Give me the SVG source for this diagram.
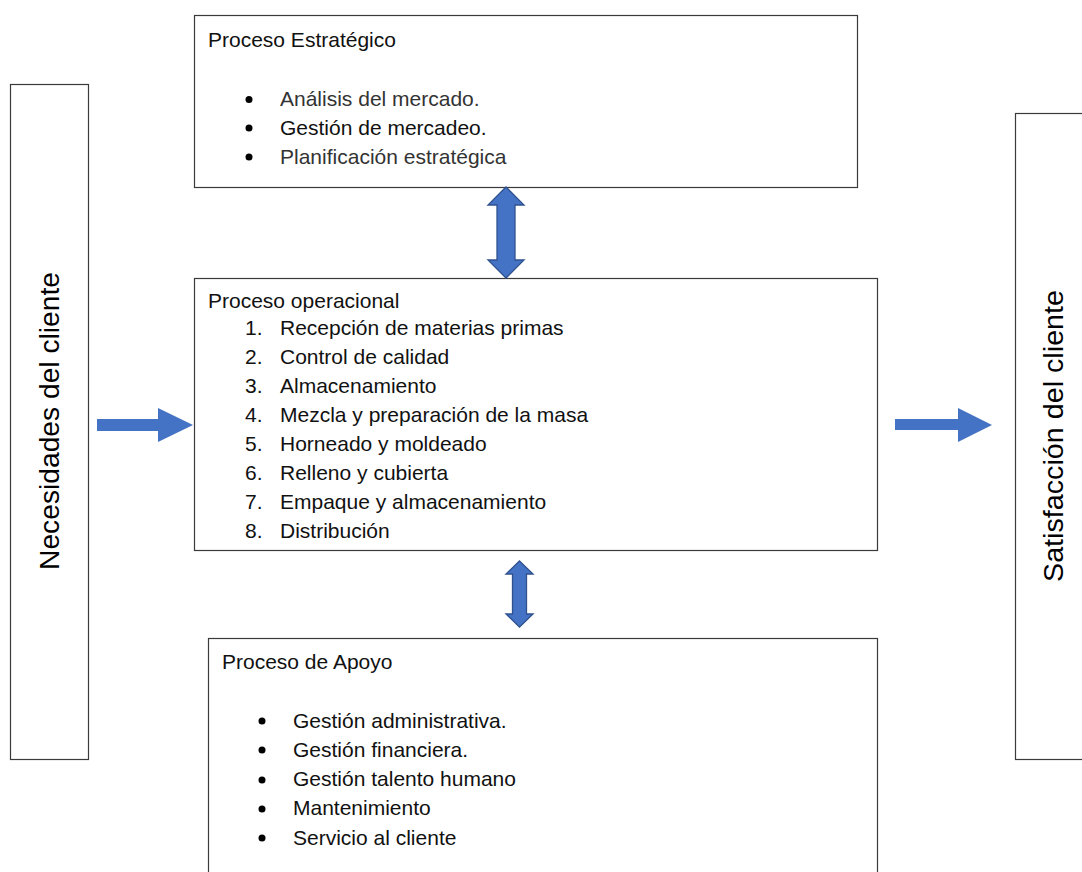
<svg xmlns="http://www.w3.org/2000/svg" width="1082" height="872" viewBox="0 0 1082 872">
  <defs>
    <style>
      .box { fill: #ffffff; stroke: #3a3a3a; stroke-width: 1.2; }
      .txt { font-family: "Liberation Sans", Arial, sans-serif; font-size: 21px; fill: #111111; }
      .soft { fill: #333333; }
      .side { font-family: "Liberation Sans", Arial, sans-serif; font-size: 27px; fill: #000000; }
      .dot { fill: #000000; }
      .dbl { fill: #4472C4; stroke: #2F528F; stroke-width: 1.3; stroke-linejoin: miter; }
      .flow { fill: #4472C4; }
    </style>
  </defs>
  <rect width="1082" height="872" fill="#ffffff"/>

  <!-- Client needs (left column) -->
  <g id="node-necesidades">
    <rect class="box" x="10.5" y="84.5" width="78" height="675"/>
    <text class="side" transform="translate(59,421) rotate(-90)" text-anchor="middle" textLength="298" lengthAdjust="spacingAndGlyphs">Necesidades del cliente</text>
  </g>

  <!-- Client satisfaction (right column) -->
  <g id="node-satisfaccion">
    <rect class="box" x="1015.5" y="113.5" width="90" height="646"/>
    <text class="side" transform="translate(1063,436) rotate(-90)" text-anchor="middle" textLength="292" lengthAdjust="spacingAndGlyphs">Satisfacción del cliente</text>
  </g>

  <!-- Strategic process -->
  <g id="node-estrategico">
    <rect class="box" x="194.5" y="15.5" width="663" height="172"/>
    <text class="txt" x="208" y="47">Proceso Estratégico</text>
    <circle class="dot" cx="249" cy="99.5" r="3.5"/>
    <circle class="dot" cx="249" cy="128" r="3.5"/>
    <circle class="dot" cx="249" cy="157" r="3.5"/>
    <text class="txt soft" x="280" y="106">Análisis del mercado.</text>
    <text class="txt" x="280" y="134.5">Gestión de mercadeo.</text>
    <text class="txt soft" x="280" y="163.5">Planificación estratégica</text>
  </g>

  <!-- Operational process -->
  <g id="node-operacional">
    <rect class="box" x="194.5" y="278.5" width="683" height="272"/>
    <text class="txt" x="208" y="308">Proceso operacional</text>
    <g class="txt">
      <text x="245" y="335">1.</text><text x="280" y="335">Recepción de materias primas</text>
      <text x="245" y="364">2.</text><text x="280" y="364">Control de calidad</text>
      <text x="245" y="393">3.</text><text x="280" y="393">Almacenamiento</text>
      <text x="245" y="422">4.</text><text x="280" y="422">Mezcla y preparación de la masa</text>
      <text x="245" y="451">5.</text><text x="280" y="451">Horneado y moldeado</text>
      <text x="245" y="480">6.</text><text x="280" y="480">Relleno y cubierta</text>
      <text x="245" y="508.5">7.</text><text x="280" y="508.5">Empaque y almacenamiento</text>
      <text x="245" y="537.5">8.</text><text x="280" y="537.5">Distribución</text>
    </g>
  </g>

  <!-- Support process -->
  <g id="node-apoyo">
    <rect class="box" x="208.5" y="638.5" width="669" height="250"/>
    <text class="txt" x="222" y="669">Proceso de Apoyo</text>
    <circle class="dot" cx="262" cy="721" r="3.5"/>
    <circle class="dot" cx="262" cy="750" r="3.5"/>
    <circle class="dot" cx="262" cy="780" r="3.5"/>
    <circle class="dot" cx="262" cy="809" r="3.5"/>
    <circle class="dot" cx="262" cy="838" r="3.5"/>
    <text class="txt" x="293" y="727.5">Gestión administrativa.</text>
    <text class="txt" x="293" y="756.5">Gestión financiera.</text>
    <text class="txt" x="293" y="786">Gestión talento humano</text>
    <text class="txt" x="293" y="815">Mantenimiento</text>
    <text class="txt" x="293" y="844.5">Servicio al cliente</text>
  </g>

  <!-- Connectors -->
  <g id="connectors">
    <polygon class="dbl" points="506,187 524,205 515,205 515,260 524,260 506,278 488,260 497,260 497,205 488,205"/>
    <polygon class="dbl" points="519.5,561 533,574 526.5,574 526.5,614 533,614 519.5,627 506,614 512.5,614 512.5,574 506,574"/>
    <polygon class="flow" points="97,419 158,419 158,408 193,425 158,442 158,431 97,431"/>
    <polygon class="flow" points="895,419 958,419 958,408 992,425 958,442 958,430 895,430"/>
  </g>
</svg>
